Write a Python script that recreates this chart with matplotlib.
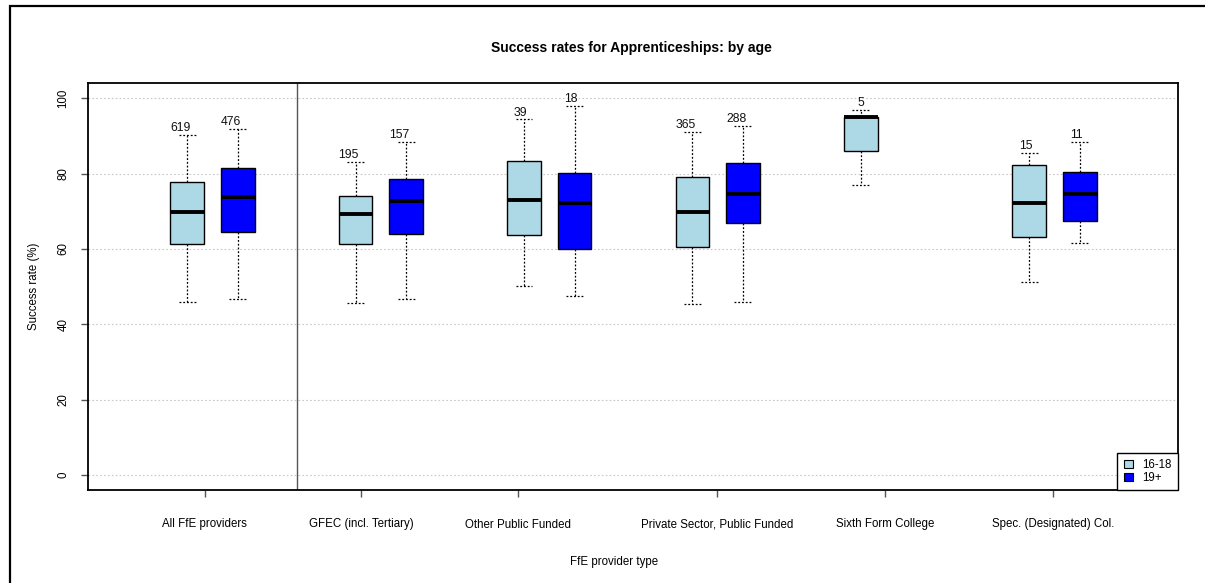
import numpy as np
import matplotlib
matplotlib.use("Agg")
import matplotlib.pyplot as plt
from matplotlib.patches import Patch, Rectangle

plt.rcParams["font.family"] = ["Liberation Sans", "DejaVu Sans"]

# -----------------------------
# Data
# -----------------------------
groups = ["All FfE providers", "GFEC (incl. Tertiary)", "Other Public Funded",
          "Private Sector, Public Funded", "Sixth Form College", "Spec. (Designated) Col."]
tick_pos = [0.953, 1.884, 2.816, 3.997, 4.994, 5.991]

# 16-18
young_lo = [45.9, 45.7, 50.1, 45.5, 77.0, 51.3]
young_q1 = [61.4, 61.3, 63.7, 60.6, 86.0, 63.2]
young_med = [69.7, 69.2, 73.0, 69.7, 95.0, 72.3]
young_q3 = [77.9, 74.1, 83.4, 79.2, 95.0, 82.4]
young_hi = [90.3, 83.1, 94.4, 91.2, 97.0, 85.6]
young_n = [619, 195, 39, 365, 5, 15]

# 19+
adult_lo = [46.7, 46.6, 47.4, 46.0, np.nan, 61.6]
adult_q1 = [64.4, 64.1, 60.0, 67.0, np.nan, 67.4]
adult_med = [73.8, 72.7, 72.1, 74.7, np.nan, 74.7]
adult_q3 = [81.6, 78.5, 80.2, 82.9, np.nan, 80.5]
adult_hi = [91.9, 88.4, 98.1, 92.6, np.nan, 88.4]
adult_n = [476, 157, 18, 288, np.nan, 11]

LIGHT = "#add8e6"
BLUE = "#0000ff"


def make_stats(lo, q1, med, q3, hi):
    out = []
    for a, b, c, d, e in zip(lo, q1, med, q3, hi):
        if np.isnan(c):
            out.append(None)
        else:
            out.append(dict(whislo=a, q1=b, med=c, q3=d, whishi=e, fliers=[]))
    return out


fig = plt.figure(figsize=(12.05, 5.83), dpi=100)
ax = fig.add_axes([87.7 / 1205, 1 - 490 / 583, 1090 / 1205, (490 - 83.3) / 583])

# horizontal grid
for v in range(0, 101, 20):
    ax.axhline(v, color="#c8c8c8", lw=0.8, ls=(0, (1.5, 2)), zorder=0)

series = [
    (make_stats(young_lo, young_q1, young_med, young_q3, young_hi), young_n, -0.15, LIGHT),
    (make_stats(adult_lo, adult_q1, adult_med, adult_q3, adult_hi), adult_n, 0.15, BLUE),
]

for stats, counts, off, col in series:
    for i, st in enumerate(stats):
        if st is None:
            continue
        x = i + 1 + off
        ax.bxp([st], positions=[x], widths=0.2, patch_artist=True, showfliers=False,
               boxprops=dict(facecolor=col, edgecolor="black", lw=1.0),
               medianprops=dict(color="black", lw=2.8, solid_capstyle="butt"),
               whiskerprops=dict(color="black", lw=0.9, ls=(0, (1.5, 1.5))),
               capprops=dict(color="black", lw=0.9, ls=(0, (1.5, 1.5))),
               capwidths=0.1, manage_ticks=False)
        ax.text(x + 0.02, st["whishi"] + 0.2, f"{int(counts[i])}", ha="right", va="bottom",
                fontsize=8.8, color="#111111", zorder=5)

# separator after "All FfE providers"
ax.axvline(1.5, color="#555555", lw=1.0)

ax.set_xlim(0.259, 6.732)
ax.set_ylim(-4, 104)
ax.set_yticks(range(0, 101, 20))
ax.set_yticklabels([str(v) for v in range(0, 101, 20)], rotation=90, va="center", fontsize=8.3)
ax.set_xticks(tick_pos)
ax.set_xticklabels(groups, fontsize=8.3, va="baseline")
ax.tick_params(axis="both", length=5, color="#555555", width=1)
ax.tick_params(axis="x", pad=22)
ax.tick_params(axis="y", pad=8)

for s in ax.spines.values():
    s.set_linewidth(1.3)
    s.set_color("black")

fig.text(631.5 / 1205, 1 - 48 / 583, "Success rates for Apprenticeships: by age",
         ha="center", va="center", fontsize=10, fontweight="bold")
ax.set_ylabel("Success rate (%)", fontsize=8.3, labelpad=13)
fig.text(614.5 / 1205, 1 - 562 / 583, "FfE provider type", ha="center", va="center", fontsize=8.3)

handles = [Patch(facecolor=LIGHT, edgecolor="black", lw=0.8, label="16-18"),
           Patch(facecolor=BLUE, edgecolor="black", lw=0.8, label="19+")]
leg = ax.legend(handles=handles, loc="lower right", fontsize=8.3, frameon=True, fancybox=False,
                borderaxespad=0, handlelength=0.8, handleheight=0.7, handletextpad=0.8,
                labelspacing=0.05, borderpad=0.55, framealpha=1)
leg.get_frame().set_edgecolor("black")
leg.get_frame().set_linewidth(1.0)

# outer frame (only left and top edges fall inside the picture)
fig.add_artist(Rectangle((10 / 1205, -0.1), 1.2, 1 - 6 / 583 + 0.1,
                         transform=fig.transFigure, fill=False, lw=1.6, edgecolor="black"))

fig.savefig("out.png", dpi=100)
